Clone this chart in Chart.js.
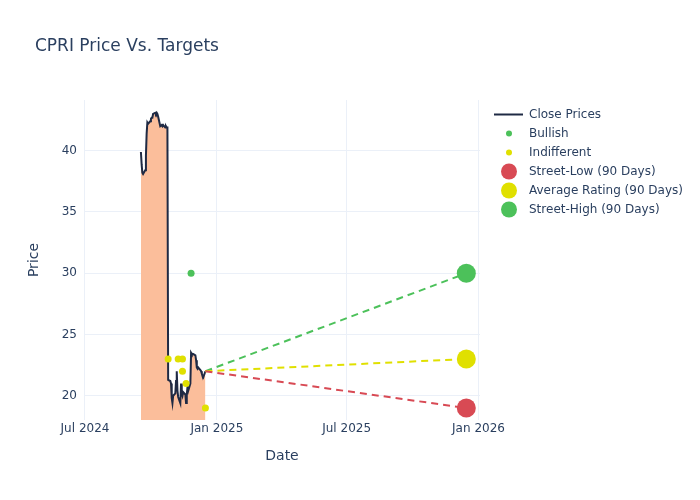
<!DOCTYPE html>
<html>
<head>
<meta charset="utf-8">
<title>CPRI Price Vs. Targets</title>
<script src="https://cdn.jsdelivr.net/npm/chart.js@4.4.0/dist/chart.umd.min.js"></script>
<style>
html, body { margin: 0; padding: 0; background: #fff; }
#myChart { display: block; }
</style>
</head>
<body>
<canvas id="myChart" width="700" height="500"></canvas>
<script>
// close prices (daily)
var closeDates = [
    "2024-09-17","2024-09-18","2024-09-19","2024-09-20","2024-09-23","2024-09-24","2024-09-25","2024-09-26","2024-09-27",
    "2024-09-30","2024-10-01","2024-10-02","2024-10-03","2024-10-04","2024-10-07","2024-10-08","2024-10-09","2024-10-10",
    "2024-10-11","2024-10-14","2024-10-15","2024-10-16","2024-10-17","2024-10-18","2024-10-21","2024-10-22","2024-10-23",
    "2024-10-24","2024-10-25","2024-10-28","2024-10-29","2024-10-30","2024-10-31","2024-11-01","2024-11-04","2024-11-05",
    "2024-11-06","2024-11-07","2024-11-08","2024-11-11","2024-11-12","2024-11-13","2024-11-14","2024-11-15","2024-11-18",
    "2024-11-19","2024-11-20","2024-11-21","2024-11-22","2024-11-25","2024-11-26","2024-11-27","2024-11-29","2024-12-02",
    "2024-12-03","2024-12-04","2024-12-05","2024-12-06","2024-12-09","2024-12-10","2024-12-11","2024-12-12","2024-12-13",
    "2024-12-16"
];
var closePrices = [
    39.9, 38.9, 38.2, 38.1, 38.4, 39.6, 41.4, 42.3, 42.2,
    42.4, 42.6, 42.7, 42.7, 43.0, 43.1, 43.0, 43.1, 43.0,
    42.8, 42.0, 42.0, 42.1, 42.0, 42.1, 41.9, 42.0, 41.9,
    41.9, 21.3, 21.2, 21.0, 19.8, 19.4, 20.0, 20.2, 21.2,
    22.0, 20.4, 19.9, 19.4, 21.0, 20.2, 20.0, 20.3, 20.1,
    19.4, 20.1, 20.7, 20.4, 21.0, 23.5, 23.4, 23.4, 23.3,
    22.9, 22.3, 22.2, 22.3, 22.1, 22.0, 21.8, 21.6, 21.5,
    22.0
];

// analyst ratings
var bullishDates = ["2024-11-26"];
var bullishTargets = [30];
var indifferentDates = ["2024-10-25","2024-11-08","2024-11-14","2024-11-14","2024-11-19","2024-12-16"];
var indifferentTargets = [23, 23, 23, 22, 21, 19];

// 90 day targets
var targetStartDate = "2024-12-16";
var targetStartPrice = 22.0;
var targetDate = "2025-12-15";
var streetLow = 19;
var avgRating = 23;
var streetHigh = 30;

// axes
var xTickDates = ["2024-07-01","2025-01-01","2025-07-01","2026-01-01"];
var xTickLabels = ["Jul 2024","Jan 2025","Jul 2025","Jan 2026"];
var yTicks = [20, 25, 30, 35, 40];

var DAY = 86400000;
function ts(d) {
    var p = d.split("-");
    return Date.UTC(+p[0], +p[1] - 1, +p[2]);
}
function pts(dates, vals) {
    return dates.map(function (d, i) { return { x: ts(d), y: vals[i] }; });
}

var green = "#4cc15a";
var yellow = "#e0e000";
var red = "#d84a54";
var textColor = "#2a3f5f";
var fontFam = "'DejaVu Sans', Verdana, sans-serif";

var legendItems = [
    { label: "Close Prices", kind: "line", color: "#1f2a44" },
    { label: "Bullish", kind: "dot", color: green, r: 3 },
    { label: "Indifferent", kind: "dot", color: yellow, r: 3 },
    { label: "Street-Low (90 Days)", kind: "dot", color: red, r: 8 },
    { label: "Average Rating (90 Days)", kind: "dot", color: yellow, r: 8 },
    { label: "Street-High (90 Days)", kind: "dot", color: green, r: 8 }
];

var extras = {
    id: "extras",
    afterDraw: function (chart) {
        var ctx = chart.ctx;
        ctx.save();
        // title
        ctx.fillStyle = textColor;
        ctx.font = "17px " + fontFam;
        ctx.textAlign = "left";
        ctx.textBaseline = "alphabetic";
        ctx.fillText("CPRI Price Vs. Targets", 35, 51);
        // legend
        ctx.font = "12px " + fontFam;
        ctx.textBaseline = "middle";
        legendItems.forEach(function (it, i) {
            var y = 114.5 + i * 19;
            if (it.kind === "line") {
                ctx.strokeStyle = it.color;
                ctx.lineWidth = 2;
                ctx.beginPath();
                ctx.moveTo(494, y);
                ctx.lineTo(523, y);
                ctx.stroke();
            } else {
                ctx.fillStyle = it.color;
                ctx.beginPath();
                ctx.arc(509, y, it.r, 0, Math.PI * 2);
                ctx.fill();
            }
            ctx.fillStyle = textColor;
            ctx.fillText(it.label, 529, y + 0.5);
        });
        ctx.restore();
    }
};

function dashed(color, target) {
    return {
        type: "line",
        data: [{ x: ts(targetStartDate), y: targetStartPrice }, { x: ts(targetDate), y: target }],
        borderColor: color,
        borderWidth: 2,
        borderDash: [7, 5],
        pointRadius: 0,
        fill: false,
        order: 2
    };
}
function bigDot(color, target) {
    return {
        type: "scatter",
        data: [{ x: ts(targetDate), y: target }],
        backgroundColor: color,
        borderWidth: 0,
        pointRadius: 9.5,
        pointHoverRadius: 9.5,
        order: 0
    };
}

var xMin = ts("2024-07-01") - 1.395 * DAY;
var xMax = ts("2026-01-01") + 2.09 * DAY;

new Chart("myChart", {
    type: "line",
    data: {
        datasets: [
            {
                label: "Close Prices",
                data: pts(closeDates, closePrices),
                borderColor: "#1f2a44",
                borderWidth: 2,
                backgroundColor: "#fbbe9b",
                fill: "start",
                pointRadius: 0,
                tension: 0,
                order: 3
            },
            dashed(red, streetLow),
            dashed(yellow, avgRating),
            dashed(green, streetHigh),
            {
                type: "scatter",
                label: "Bullish",
                data: pts(bullishDates, bullishTargets),
                backgroundColor: green,
                borderWidth: 0,
                pointRadius: 3.5,
                order: 1
            },
            {
                type: "scatter",
                label: "Indifferent",
                data: pts(indifferentDates, indifferentTargets),
                backgroundColor: yellow,
                borderWidth: 0,
                pointRadius: 3.5,
                order: 1
            },
            bigDot(red, streetLow),
            bigDot(yellow, avgRating),
            bigDot(green, streetHigh)
        ]
    },
    options: {
        responsive: false,
        animation: false,
        devicePixelRatio: 1,
        layout: { padding: { left: 0, top: 100, right: 220, bottom: 0 } },
        plugins: {
            legend: { display: false },
            title: { display: false },
            tooltip: { enabled: false }
        },
        scales: {
            x: {
                type: "linear",
                min: xMin,
                max: xMax,
                afterBuildTicks: function (scale) {
                    scale.ticks = xTickDates.map(function (d) { return { value: ts(d) }; });
                },
                afterFit: function (scale) { scale.height = 80; },
                ticks: {
                    color: textColor,
                    font: { family: fontFam, size: 12 },
                    padding: 2,
                    maxRotation: 0,
                    autoSkip: false,
                    callback: function (v, i) { return xTickLabels[i]; }
                },
                grid: { color: "#ebf0f8", lineWidth: 1, drawTicks: false },
                border: { display: false },
                title: {
                    display: true,
                    text: "Date",
                    color: textColor,
                    font: { family: fontFam, size: 14 },
                    padding: { top: 0, bottom: 35.6 }
                }
            },
            y: {
                min: 18.02,
                max: 44.14,
                afterBuildTicks: function (scale) {
                    scale.ticks = yTicks.map(function (v) { return { value: v }; });
                },
                afterFit: function (scale) { scale.width = 84; },
                ticks: {
                    color: textColor,
                    font: { family: fontFam, size: 12 },
                    padding: 7
                },
                grid: { color: "#ebf0f8", lineWidth: 1, drawTicks: false },
                border: { display: false },
                title: {
                    display: true,
                    text: "Price",
                    color: textColor,
                    font: { family: fontFam, size: 14 },
                    padding: { top: 25.6, bottom: 0 }
                }
            }
        }
    },
    plugins: [extras]
});
</script>
</body>
</html>
